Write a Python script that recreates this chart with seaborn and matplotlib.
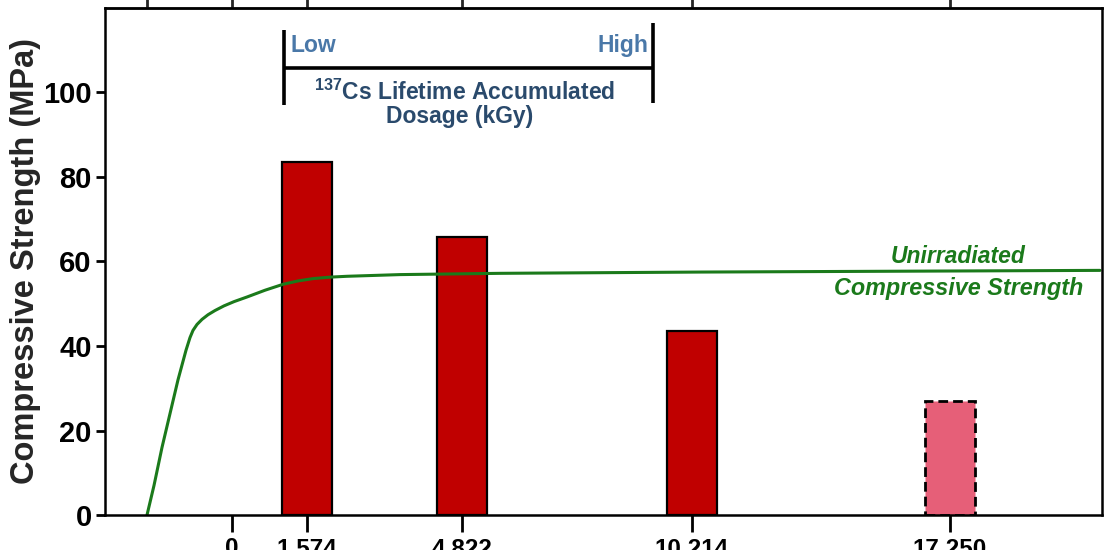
import matplotlib
matplotlib.use("Agg")
import matplotlib.pyplot as plt
import seaborn as sns
import numpy as np
import pandas as pd

# ---------------- data ----------------
dose_labels = ["0", "1,574", "4,822", "10,214", "17,250"]
dose_pos = [0, 75, 230, 460, 718]            # axis position of each dose tick
bar_labels = ["1,574", "4,822", "10,214", "17,250"]
bar_pos = [75, 230, 460, 718]
strength = [83.5, 65.7, 43.5, 27.0]           # MPa
bar_kind = ["measured", "measured", "measured", "projected"]

# unirradiated compressive strength curve
curve_x = [-85, -78, -70, -62, -54, -46, -42, -39, -35, -30, -24, -17, -8, 2, 15, 33, 51,
           66, 81, 98, 115, 168, 268, 468, 668, 868]
curve_y = [0, 7, 16, 24, 32, 39, 42, 43.7, 45.1, 46.3, 47.4, 48.4, 49.5, 50.5, 51.6, 53.2, 54.6,
           55.4, 55.95, 56.3, 56.5, 56.9, 57.2, 57.5, 57.7, 57.9]
top_ticks = [-85, 0, 75, 230, 460, 718]

y_ticks = [0, 20, 40, 60, 80, 100]

# ---------------- style ----------------
sns.set_theme(style="ticks")
plt.rcParams["font.family"] = ["Liberation Sans", "DejaVu Sans"]
plt.rcParams["font.weight"] = "bold"
plt.rcParams["mathtext.fontset"] = "custom"
plt.rcParams["mathtext.rm"] = "Liberation Sans:bold"
plt.rcParams["mathtext.bf"] = "Liberation Sans:bold"

RED = "#C00000"
PINK = "#E65F78"
GREEN = "#1B7A1B"
BLUE_LIGHT = "#4A78A8"
BLUE_DARK = "#2A4A6C"

fig = plt.figure(figsize=(11.1, 5.5), dpi=100)
ax = fig.add_axes([0.0946, 0.0636, 0.8982, 0.9219])

df = pd.DataFrame({"pos": bar_pos, "strength": strength, "kind": bar_kind})
sns.barplot(data=df, x="pos", y="strength", hue="kind", native_scale=True,
            palette={"measured": RED, "projected": PINK}, width=50 / 155,
            saturation=1, edgecolor="black", linewidth=1.6, legend=False,
            ax=ax, dodge=False)
for p in ax.patches:
    if p.get_height() > 0 and abs(p.get_height() - strength[-1]) < 1e-6:
        p.set_linestyle((0, (3.5, 1.8)))
        p.set_linewidth(2.0)

cdf = pd.DataFrame({"x": curve_x, "y": curve_y})
sns.lineplot(data=cdf, x="x", y="y", sort=False, estimator=None, color=GREEN,
             linewidth=2.2, ax=ax)

ax.set_xlim(-127, 870)
ax.set_ylim(0, 120)
ax.set_xticks(dose_pos)
ax.set_xticklabels(dose_labels, fontsize=17.5, fontweight="bold")
ax.set_yticks(y_ticks)
ax.set_yticklabels([str(v) for v in y_ticks], fontsize=21, fontweight="bold")
ax.set_xlabel("")
ax.set_ylabel("Compressive Strength (MPa)", fontsize=23.5, fontweight="bold")
ax.yaxis.set_label_coords(-0.064, 0.5)

ax.tick_params(axis="x", direction="out", length=12, width=2, pad=4, colors="black")
ax.tick_params(axis="y", direction="out", length=6.5, width=2, pad=3, colors="black")
for s in ax.spines.values():
    s.set_visible(True)
    s.set_linewidth(1.8)
    s.set_color("black")

sec = ax.secondary_xaxis("top")
sec.set_xticks(top_ticks)
sec.set_xticklabels([""] * len(top_ticks))
sec.tick_params(direction="out", length=10, width=2)
sec.spines["top"].set_linewidth(1.8)

# dosage bracket annotation
ax.plot([52, 52], [97.0, 114.8], color="black", lw=2.6, solid_capstyle="butt")
ax.plot([421, 421], [97.5, 116.4], color="black", lw=2.6, solid_capstyle="butt")
ax.plot([52, 421], [105.8, 105.8], color="black", lw=2.6, solid_capstyle="butt")
ax.text(58, 111.2, "Low", color=BLUE_LIGHT, fontsize=16.5, fontweight="bold",
        ha="left", va="center")
ax.text(416, 111.2, "High", color=BLUE_LIGHT, fontsize=16.5, fontweight="bold",
        ha="right", va="center")
ax.text(233, 100.1, r"$^{137}$Cs Lifetime Accumulated", color=BLUE_DARK, fontsize=16.5,
        fontweight="bold", ha="center", va="center")
ax.text(228, 94.4, "Dosage (kGy)", color=BLUE_DARK, fontsize=16.5,
        fontweight="bold", ha="center", va="center")

ax.text(726, 61.1, "Unirradiated", color=GREEN, fontsize=16.5, fontweight="bold",
        fontstyle="italic", ha="center", va="center")
ax.text(727, 53.7, "Compressive Strength", color=GREEN, fontsize=16.8, fontweight="bold",
        fontstyle="italic", ha="center", va="center")

fig.savefig("out.png", dpi=100)
